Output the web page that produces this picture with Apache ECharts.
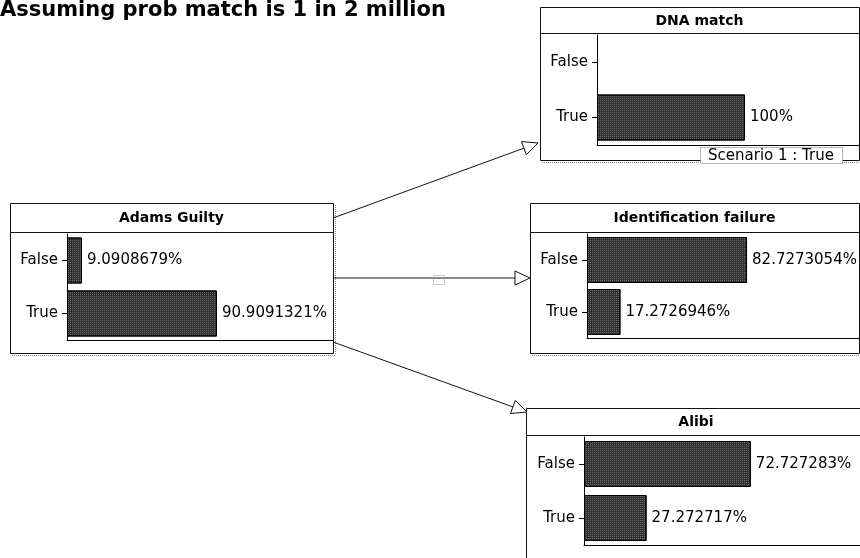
<!DOCTYPE html>
<html>
<head>
<meta charset="utf-8">
<script src="https://cdn.jsdelivr.net/npm/echarts@6/dist/echarts.min.js"></script>
<style>html,body{margin:0;padding:0;background:#fff}#c{width:860px;height:558px}</style>
</head>
<body>
<div id="c"></div>
<script>
// ---- data ----
const pageTitle = 'Assuming prob match is 1 in 2 million';
const categories = ['False', 'True'];
const nodeTitles = ['Adams Guilty', 'DNA match', 'Identification failure', 'Alibi'];
const adamsGuilty = [9.0908679, 90.9091321];
const dnaMatch = [0, 100];
const identificationFailure = [82.7273054, 17.2726946];
const alibi = [72.727283, 27.272717];
const scenarioLabel = 'Scenario 1 : True';

// ---- layout (positions only) ----
const nodes = [
  { values: adamsGuilty, box: { x: 10, y: 203, w: 323, h: 150, head: 29 }, grid: { left: 67, top: 234, width: 266, height: 106 }, max: 161.2 },
  { values: dnaMatch, box: { x: 540, y: 7, w: 319, h: 153, head: 26 }, grid: { left: 597, top: 35, width: 262, height: 110 }, max: 177 },
  { values: identificationFailure, box: { x: 530, y: 203, w: 329, h: 150, head: 29 }, grid: { left: 587, top: 234, width: 272, height: 104 }, max: 140.6 },
  { values: alibi, box: { x: 526, y: 408, w: 340, h: 160, head: 27 }, grid: { left: 584, top: 437, width: 278, height: 108 }, max: 120.3 }
];
const arrows = [
  [333, 218, 538, 143],
  [333, 278, 530, 278],
  [333, 342, 527, 412]
];

const FONT = 'DejaVu Sans';
const grids = [], xAxes = [], yAxes = [], series = [], graphics = [];

nodes.forEach((n, i) => {
  grids.push(Object.assign({ containLabel: false }, n.grid));
  xAxes.push({
    type: 'value', gridIndex: i, min: 0, max: n.max,
    axisLine: { show: true, lineStyle: { color: '#000', width: 1 } },
    axisTick: { show: false }, axisLabel: { show: false }, splitLine: { show: false }
  });
  yAxes.push({
    type: 'category', gridIndex: i, data: categories, inverse: true,
    axisLine: { show: true, lineStyle: { color: '#000', width: 1 } },
    axisTick: { show: true, length: 5, alignWithLabel: true, lineStyle: { color: '#000' } },
    axisLabel: { color: '#000', fontFamily: FONT, fontSize: 15, margin: 9 },
    splitLine: { show: false }
  });
  series.push({
    type: 'bar', xAxisIndex: i, yAxisIndex: i, barWidth: 46,
    data: n.values.map(v => (v === 0 ? { value: v, itemStyle: { borderWidth: 0 } } : v)),
    itemStyle: {
      color: '#2f2f2f', borderColor: '#000', borderWidth: 1,
      decal: { symbol: 'rect', symbolSize: 1, dashArrayX: [1, 1], dashArrayY: [1, 1], color: 'rgba(255,255,255,0.3)', rotation: 0 }
    },
    label: {
      show: true, position: 'right', distance: 5, color: '#000', fontFamily: FONT, fontSize: 15,
      formatter: p => (p.value ? p.value + '%' : '')
    },
    silent: true, animation: false
  });
  const b = n.box;
  graphics.push({ type: 'rect', z: -5, shape: { x: b.x + 0.5, y: b.y + 0.5, width: b.w, height: b.h }, style: { fill: '#fff', stroke: '#111', lineWidth: 1 } });
  graphics.push({ type: 'line', z: -4, shape: { x1: b.x + 2, y1: b.y + b.h + 2.5, x2: b.x + b.w + 2, y2: b.y + b.h + 2.5 }, style: { stroke: '#888', lineWidth: 1, lineDash: [1, 1] } });
  graphics.push({ type: 'line', z: -4, shape: { x1: b.x + b.w + 2.5, y1: b.y + 2, x2: b.x + b.w + 2.5, y2: b.y + b.h + 2 }, style: { stroke: '#888', lineWidth: 1, lineDash: [1, 1] } });
  graphics.push({ type: 'line', z: -4, shape: { x1: b.x, y1: b.y + b.head + 0.5, x2: b.x + b.w, y2: b.y + b.head + 0.5 }, style: { stroke: '#111', lineWidth: 1 } });
  graphics.push({ type: 'text', z: 5, x: b.x + b.w / 2, y: b.y + b.head / 2 + 1, style: { text: nodeTitles[i], fill: '#000', font: 'bold 14px "DejaVu Sans"', textAlign: 'center', textVerticalAlign: 'middle' } });
});

function arrowHead(x1, y1, x2, y2) {
  const a = Math.atan2(y2 - y1, x2 - x1), L = 15, W = 7;
  const bx = x2 - L * Math.cos(a), by = y2 - L * Math.sin(a);
  return { base: [bx, by], pts: [[x2, y2], [bx + W * Math.sin(a), by - W * Math.cos(a)], [bx - W * Math.sin(a), by + W * Math.cos(a)]] };
}
arrows.forEach(([x1, y1, x2, y2]) => {
  const h = arrowHead(x1, y1, x2, y2);
  graphics.push({ type: 'line', z: 10, shape: { x1, y1, x2: h.base[0], y2: h.base[1] }, style: { stroke: '#111', lineWidth: 1 } });
  graphics.push({ type: 'polygon', z: 10, shape: { points: h.pts }, style: { fill: '#fff', stroke: '#111', lineWidth: 1 } });
});
// small dotted marker on middle link
graphics.push({ type: 'rect', z: 11, shape: { x: 433.5, y: 275.5, width: 11, height: 9 }, style: { fill: 'rgba(0,0,0,0)', stroke: '#999', lineWidth: 1, lineDash: [1, 1] } });
// scenario label
graphics.push({ type: 'rect', z: 12, shape: { x: 700.5, y: 147.5, width: 142, height: 16 }, style: { fill: '#fff', stroke: '#777', lineWidth: 1, lineDash: [1, 1] } });
graphics.push({ type: 'text', z: 13, x: 771, y: 156, style: { text: scenarioLabel, fill: '#000', font: '15px "DejaVu Sans"', textAlign: 'center', textVerticalAlign: 'middle' } });
// page title
graphics.push({ type: 'text', z: 13, x: 0, y: 0, style: { text: pageTitle, fill: '#000', font: 'bold 21px "DejaVu Sans"', textAlign: 'left', textVerticalAlign: 'top' } });

const chart = echarts.init(document.getElementById('c'), null, { renderer: 'canvas' });
chart.setOption({
  animation: false,
  backgroundColor: '#fff',
  grid: grids, xAxis: xAxes, yAxis: yAxes, series: series,
  graphic: { elements: graphics }
});
</script>
</body>
</html>
